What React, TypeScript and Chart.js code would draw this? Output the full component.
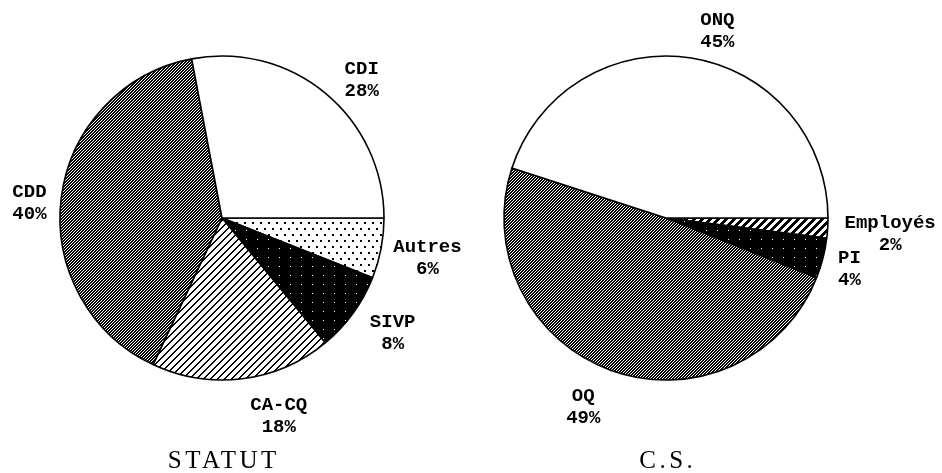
import React, { useEffect, useRef } from "react";
import { Chart, registerables } from "chart.js";
Chart.register(...registerables);

// Slices listed clockwise from 3 o'clock
const statutLabels = ["Autres", "SIVP", "CA-CQ", "CDD", "CDI"];
const statutValues = [6, 8, 18, 40, 28];
const statutTitle = "STATUT";

const csLabels = ["Employés", "PI", "OQ", "ONQ"];
const csValues = [2, 4, 49, 45];
const csTitle = "C.S.";

type PatternKind = "white" | "dots" | "black" | "hatchSparse" | "hatchDense" | "hatchThick";
const statutPatterns: PatternKind[] = ["dots", "black", "hatchSparse", "hatchDense", "white"];
const csPatterns: PatternKind[] = ["hatchThick", "black", "hatchDense", "white"];

// label nudges (px) to fine-tune label placement
const statutNudge: [number, number][] = [[-2, 4], [9, 1], [31, 5], [0, 10], [16, 12]];
const csNudge: [number, number][] = [[2, 4], [1, 3], [-17, 6], [21, 6]];

function makePattern(kind: PatternKind): CanvasPattern | string {
  if (kind === "white") return "#ffffff";
  const c = document.createElement("canvas");
  let w = 4, h = 4;
  let test: (x: number, y: number) => boolean = () => false;
  if (kind === "hatchDense") { w = 3; h = 3; test = (x, y) => (x + y) % 3 < 2; }
  if (kind === "hatchSparse") { w = 7; h = 7; test = (x, y) => (x + y) % 7 < 2; }
  if (kind === "hatchThick") { w = 8; h = 8; test = (x, y) => (x + y) % 8 < 4; }
  if (kind === "black") { w = 11; h = 9; test = (x, y) => !(x === 4 && y === 5); }
  if (kind === "dots") {
    w = 8; h = 12;
    test = (x, y) => (x < 2 && y < 2) || (x >= 4 && x < 6 && y >= 6 && y < 8);
  }
  c.width = w; c.height = h;
  const ctx = c.getContext("2d")!;
  ctx.fillStyle = "#fff";
  ctx.fillRect(0, 0, w, h);
  ctx.fillStyle = "#000";
  for (let y = 0; y < h; y++) for (let x = 0; x < w; x++) if (test(x, y)) ctx.fillRect(x, y, 1, 1);
  const ref = document.createElement("canvas").getContext("2d")!;
  return ref.createPattern(c, "repeat")!;
}

const LABEL_FONT = "bold 19px 'Liberation Mono', monospace";
const TITLE_FONT = "25px 'Liberation Serif', serif";
const TITLE_SPACING = 3.5;

function labelPlugin(pcts: number[], nudges: [number, number][], title: string, titleY: number) {
  return {
    id: "pieLabels",
    afterDatasetsDraw(chart: any) {
      const ctx = chart.ctx as CanvasRenderingContext2D;
      const meta = chart.getDatasetMeta(0);
      const labels = chart.data.labels as string[];
      ctx.save();
      ctx.fillStyle = "#000";
      ctx.font = LABEL_FONT;
      ctx.textAlign = "center";
      ctx.textBaseline = "middle";
      const lh = 22;
      let cx = 0;
      meta.data.forEach((arc: any, i: number) => {
        const p = arc.getProps(["x", "y", "startAngle", "endAngle", "outerRadius"], true);
        cx = p.x;
        const mid = (p.startAngle + p.endAngle) / 2;
        const dx = Math.cos(mid), dy = Math.sin(mid);
        const l1 = labels[i];
        const l2 = pcts[i] + "%";
        const w = Math.max(ctx.measureText(l1).width, ctx.measureText(l2).width);
        const h = lh + 14;
        const gap = 15;
        const ax = p.x + dx * (p.outerRadius + gap);
        const ay = p.y + dy * (p.outerRadius + gap);
        const bx = ax + dx * w / 2 + nudges[i][0];
        const by = ay + dy * h / 2 + nudges[i][1];
        ctx.fillText(l1, bx, by - lh / 2);
        ctx.fillText(l2, bx, by + lh / 2);
      });
      ctx.font = TITLE_FONT;
      (ctx as any).letterSpacing = TITLE_SPACING + "px";
      ctx.textBaseline = "alphabetic";
      ctx.fillText(title, cx + TITLE_SPACING / 2, titleY);
      ctx.restore();
    },
  };
}

function PieChart(props: {
  labels: string[]; values: number[]; patterns: PatternKind[]; nudges: [number, number][];
  title: string; padRight: number; left: number;
}) {
  const ref = useRef<HTMLCanvasElement>(null);
  useEffect(() => {
    const chart = new Chart(ref.current!, {
      type: "pie",
      data: {
        labels: props.labels,
        datasets: [{
          data: props.values,
          backgroundColor: props.patterns.map(makePattern) as any,
          borderColor: "#000",
          borderWidth: 1.6,
          radius: 162,
        } as any],
      },
      options: {
        responsive: false,
        animation: false,
        events: [],
        rotation: 90,
        layout: { padding: { left: 0, top: 0, right: props.padRight, bottom: 37 } },
        plugins: { legend: { display: false }, tooltip: { enabled: false } },
      },
      plugins: [labelPlugin(props.values, props.nudges, props.title, 468)],
    });
    return () => chart.destroy();
  }, []);
  return (
    <canvas
      ref={ref}
      width={471}
      height={473}
      style={{ position: "absolute", left: props.left, top: 0, width: 471, height: 473 }}
    />
  );
}

export default function App() {
  return (
    <div style={{ position: "fixed", left: 0, top: 0, width: 942, height: 473, background: "#fff" }}>
      <PieChart labels={statutLabels} values={statutValues} patterns={statutPatterns}
        nudges={statutNudge} title={statutTitle} padRight={27} left={0} />
      <PieChart labels={csLabels} values={csValues} patterns={csPatterns}
        nudges={csNudge} title={csTitle} padRight={81} left={471} />
    </div>
  );
}
